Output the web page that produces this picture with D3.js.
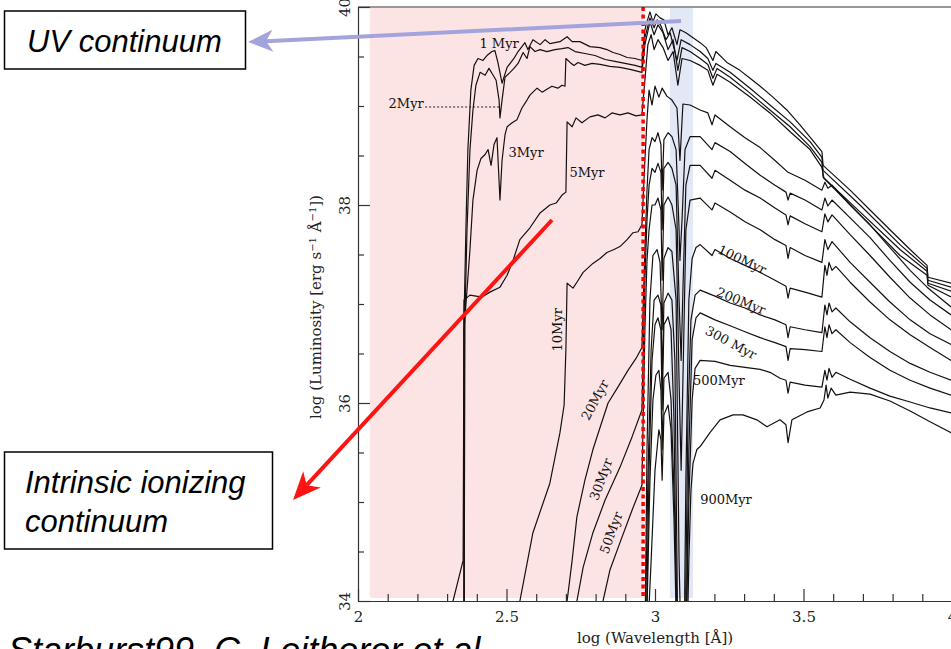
<!DOCTYPE html>
<html lang="en">
<head>
<meta charset="UTF-8">
<title>Starburst99 spectra</title>
<script src="https://cdn.jsdelivr.net/npm/d3@7"></script>
<style>
    body { margin: 0; background: #fff; }
    svg { display: block; }
    .axis path, .axis line { stroke: #333; stroke-width: 1.2; }
    .axis .tick text { font-family: "DejaVu Serif", serif; font-size: 15px; fill: #222; }
    .axis-title { font-family: "DejaVu Serif", serif; font-size: 15px; fill: #222; }
    .age { font-family: "DejaVu Serif", serif; font-size: 13px; fill: #111; }
    .note { font-family: "Liberation Sans", Arial, sans-serif; font-style: italic; font-size: 31px; fill: #000; }
</style>
</head>
<body>
<svg width="951" height="649"></svg>
<script>
// ticks
const xMajor = [2, 2.5, 3, 3.5, 4];
const yMajor = [34, 36, 38, 40];
const xMinor = [2.1, 2.2, 2.3, 2.4, 2.6, 2.7, 2.8, 2.9, 3.1, 3.2, 3.3, 3.4, 3.6, 3.7, 3.8, 3.9];
const yMinor = [34.5, 35, 35.5, 36.5, 37, 37.5, 38.5, 39, 39.5];

// highlighted bands (log wavelength)
const ionizingBand = [2.04, 2.96];
const uvBand = [3.05, 3.128];
const lymanEdge = 2.96;

// ages, in plot order
const ages = ["1 Myr", "2Myr", "3Myr", "5Myr", "10Myr", "20Myr", "30Myr", "50Myr",
              "100Myr", "200Myr", "300 Myr", "500Myr", "900Myr"];

// spectra: [log wavelength, log luminosity]
const myr1 = [[2.357,33.5],[2.357,36.84],[2.364,37.85],[2.370,38.56],[2.380,39.16],[2.391,39.41],[2.404,39.48],
  [2.421,39.46],[2.434,39.51],[2.451,39.55],[2.461,39.56],[2.471,39.44],[2.485,39.23],[2.502,39.39],[2.525,39.48],
  [2.539,39.55],[2.552,39.60],[2.562,39.64],[2.572,39.57],[2.589,39.67],[2.613,39.62],[2.630,39.67],[2.646,39.63],
  [2.663,39.64],[2.680,39.65],[2.704,39.70],[2.721,39.65],[2.747,39.65],[2.781,39.60],[2.815,39.59],[2.838,39.57],
  [2.859,39.54],[2.882,39.52],[2.906,39.49],[2.933,39.48],[2.956,39.46],[2.966,39.77],[2.970,39.82],[2.983,39.95],
  [2.993,39.85],[3.003,39.93],[3.017,39.89],[3.030,39.87],[3.044,39.72],[3.057,39.79],[3.074,39.62],[3.084,39.77],
  [3.104,39.74],[3.128,39.69],[3.152,39.64],[3.172,39.59],[3.195,39.46],[3.205,39.55],[3.242,39.44],[3.286,39.36],
  [3.320,39.28],[3.354,39.20],[3.397,39.09],[3.444,38.96],[3.488,38.81],[3.529,38.66],[3.562,38.54],[3.566,38.40],
  [3.657,38.15],[3.724,37.95],[3.791,37.75],[3.859,37.55],[3.916,37.39],[3.919,37.27],[3.997,37.21]];

const myr2 = [[2.357,33.5],[2.360,36.84],[2.367,37.75],[2.377,38.56],[2.387,38.96],[2.397,39.21],[2.411,39.34],
  [2.428,39.31],[2.441,39.38],[2.455,39.31],[2.465,39.26],[2.475,39.06],[2.478,38.88],[2.485,39.06],[2.495,39.29],
  [2.512,39.34],[2.525,39.38],[2.539,39.43],[2.556,39.54],[2.569,39.48],[2.579,39.60],[2.596,39.55],[2.613,39.57],
  [2.636,39.55],[2.663,39.57],[2.687,39.58],[2.707,39.59],[2.731,39.55],[2.764,39.53],[2.798,39.51],[2.832,39.47],
  [2.865,39.45],[2.899,39.43],[2.933,39.41],[2.956,39.39],[2.966,39.69],[2.983,39.89],[2.997,39.79],[3.007,39.87],
  [3.020,39.81],[3.037,39.67],[3.051,39.74],[3.074,39.46],[3.088,39.67],[3.118,39.62],[3.152,39.55],[3.178,39.48],
  [3.195,39.36],[3.205,39.43],[3.253,39.34],[3.320,39.18],[3.387,39.01],[3.455,38.84],[3.522,38.64],[3.562,38.48],
  [3.566,38.35],[3.690,38.00],[3.825,37.60],[3.916,37.36],[3.919,37.24],[3.997,37.17]];

const myr3 = [[2.357,33.5],[2.357,36.74],[2.367,37.14],[2.377,37.55],[2.387,38.05],[2.401,38.35],[2.414,38.47],
  [2.428,38.51],[2.438,38.56],[2.448,38.40],[2.458,38.61],[2.468,38.68],[2.478,38.05],[2.485,38.45],[2.495,38.71],
  [2.502,38.79],[2.519,38.83],[2.535,38.86],[2.552,38.98],[2.569,39.06],[2.579,39.11],[2.589,39.14],[2.603,39.18],
  [2.620,39.14],[2.636,39.17],[2.653,39.20],[2.673,39.18],[2.687,39.21],[2.697,39.20],[2.700,39.48],[2.714,39.44],
  [2.727,39.41],[2.741,39.44],[2.764,39.41],[2.788,39.43],[2.815,39.42],[2.848,39.40],[2.882,39.39],[2.916,39.37],
  [2.956,39.34],[2.966,39.62],[2.983,39.85],[2.997,39.72],[3.010,39.82],[3.027,39.74],[3.044,39.57],[3.061,39.67],
  [3.077,39.36],[3.091,39.59],[3.118,39.55],[3.152,39.48],[3.178,39.42],[3.195,39.28],[3.209,39.38],[3.253,39.29],
  [3.320,39.13],[3.387,38.96],[3.455,38.79],[3.522,38.59],[3.562,38.43],[3.566,38.28],[3.690,37.93],[3.825,37.55],
  [3.916,37.33],[3.919,37.21],[3.997,37.13]];

const myr5 = [[2.310,33.5],[2.320,34.00],[2.354,34.41],[2.357,37.04],[2.377,37.09],[2.418,37.07],[2.444,37.12],
  [2.478,37.17],[2.502,37.29],[2.522,37.44],[2.545,37.65],[2.579,37.77],[2.613,37.92],[2.646,38.00],[2.667,38.02],
  [2.687,38.10],[2.700,38.13],[2.704,38.84],[2.721,38.79],[2.734,38.88],[2.754,38.83],[2.781,38.89],[2.808,38.91],
  [2.832,38.88],[2.855,38.93],[2.882,38.91],[2.909,38.93],[2.936,38.90],[2.956,38.91],[2.966,39.26],[2.976,39.62],
  [2.987,39.72],[2.997,39.57],[3.010,39.67],[3.027,39.59],[3.044,39.46],[3.061,39.55],[3.077,39.21],[3.091,39.48],
  [3.118,39.46],[3.152,39.41],[3.178,39.36],[3.195,39.21],[3.209,39.32],[3.253,39.24],[3.320,39.09],[3.387,38.93],
  [3.455,38.74],[3.522,38.56],[3.562,38.38],[3.569,38.27],[3.690,37.90],[3.825,37.49],[3.916,37.29],[3.919,37.19],
  [3.997,37.07]];

const myr10 = [[2.529,33.5],[2.545,34.00],[2.589,34.69],[2.646,35.19],[2.680,35.70],[2.694,35.98],[2.700,36.54],
  [2.704,37.21],[2.724,37.16],[2.737,37.22],[2.758,37.32],[2.791,37.41],[2.815,37.46],[2.838,37.52],[2.862,37.55],
  [2.882,37.58],[2.906,37.65],[2.926,37.72],[2.943,37.73],[2.956,37.80],[2.966,38.45],[2.973,38.86],[2.980,39.16],
  [2.990,39.01],[3.000,39.20],[3.013,39.09],[3.024,39.18],[3.040,39.10],[3.057,39.06],[3.074,38.98],[3.084,38.45],
  [3.094,39.02],[3.118,39.01],[3.152,38.96],[3.178,38.93],[3.192,38.81],[3.202,38.91],[3.253,38.79],[3.303,38.68],
  [3.354,38.58],[3.404,38.45],[3.448,38.33],[3.505,38.25],[3.562,38.15],[3.572,38.23],[3.582,38.17],[3.596,38.20],
  [3.657,38.00],[3.724,37.80],[3.791,37.57],[3.859,37.34],[3.916,37.17],[3.960,37.06],[3.997,36.97]];

const myr20 = [[2.700,33.5],[2.704,34.00],[2.721,34.41],[2.737,34.85],[2.764,35.22],[2.791,35.53],[2.818,35.78],
  [2.842,36.00],[2.875,36.16],[2.909,36.33],[2.936,36.45],[2.956,36.56],[2.966,37.55],[2.973,38.15],[2.980,38.56],
  [2.990,38.68],[3.000,38.64],[3.010,38.73],[3.020,38.61],[3.024,38.15],[3.030,38.66],[3.044,38.73],[3.057,38.69],
  [3.071,38.56],[3.081,37.75],[3.084,37.44],[3.091,37.85],[3.101,38.56],[3.118,38.69],[3.152,38.69],[3.192,38.56],
  [3.202,38.63],[3.253,38.54],[3.303,38.42],[3.354,38.30],[3.404,38.20],[3.441,38.13],[3.448,38.05],[3.455,38.12],
  [3.505,38.05],[3.562,37.95],[3.572,38.07],[3.582,37.99],[3.596,38.05],[3.657,37.87],[3.724,37.67],[3.791,37.44],
  [3.859,37.22],[3.926,37.04],[3.997,36.89]];

const myr30 = [[2.731,33.5],[2.737,34.00],[2.758,34.34],[2.791,34.69],[2.832,35.02],[2.882,35.35],[2.923,35.66],
  [2.956,35.93],[2.966,37.24],[2.973,37.85],[2.980,38.20],[2.990,38.37],[3.000,38.33],[3.010,38.42],[3.020,38.33],
  [3.024,37.75],[3.030,38.37],[3.044,38.43],[3.057,38.37],[3.071,38.20],[3.081,37.04],[3.088,36.43],[3.094,37.14],
  [3.104,38.20],[3.118,38.40],[3.152,38.40],[3.192,38.27],[3.202,38.35],[3.253,38.25],[3.303,38.15],[3.354,38.07],
  [3.404,37.97],[3.441,37.90],[3.448,37.80],[3.455,37.89],[3.505,37.81],[3.562,37.73],[3.572,37.91],[3.582,37.83],
  [3.596,37.90],[3.657,37.70],[3.724,37.49],[3.791,37.27],[3.859,37.06],[3.926,36.89],[3.997,36.74]];

const myr50 = [[2.818,33.5],[2.825,34.00],[2.848,34.31],[2.882,34.59],[2.923,34.92],[2.956,35.17],[2.966,36.74],
  [2.973,37.44],[2.980,37.75],[2.990,38.00],[3.000,38.00],[3.010,38.07],[3.020,37.95],[3.024,37.24],[3.030,38.00],
  [3.044,38.08],[3.057,38.00],[3.071,37.75],[3.081,36.23],[3.088,35.32],[3.094,36.23],[3.104,37.75],[3.118,38.05],
  [3.152,38.07],[3.192,37.95],[3.202,38.02],[3.253,37.93],[3.303,37.83],[3.354,37.75],[3.404,37.65],[3.441,37.59],
  [3.448,37.46],[3.455,37.57],[3.505,37.49],[3.562,37.42],[3.572,37.65],[3.582,37.55],[3.596,37.63],[3.657,37.42],
  [3.724,37.22],[3.791,37.02],[3.859,36.84],[3.926,36.70],[3.997,36.59]];

const myr100 = [[2.966,33.5],[2.973,35.53],[2.983,37.04],[2.993,37.49],[3.007,37.55],[3.017,37.42],[3.024,36.74],
  [3.030,37.46],[3.044,37.57],[3.057,37.53],[3.071,37.04],[3.081,34.41],[3.088,33.5],[3.098,33.5],[3.104,35.22],
  [3.114,37.04],[3.125,37.46],[3.138,37.57],[3.152,37.60],[3.192,37.49],[3.202,37.55],[3.253,37.46],[3.303,37.39],
  [3.354,37.32],[3.404,37.24],[3.441,37.18],[3.448,37.06],[3.455,37.16],[3.505,37.12],[3.562,37.07],[3.572,37.39],
  [3.579,37.29],[3.586,37.42],[3.596,37.34],[3.609,37.38],[3.657,37.22],[3.724,37.02],[3.791,36.84],[3.859,36.69],
  [3.926,36.56],[3.997,36.43]];

const myr200 = [[2.966,33.5],[2.976,35.22],[2.987,36.54],[2.997,37.04],[3.010,37.09],[3.020,36.99],[3.024,36.23],
  [3.030,37.01],[3.044,37.11],[3.057,37.04],[3.067,36.43],[3.077,33.5],[3.101,33.5],[3.111,35.83],[3.121,36.84],
  [3.135,37.09],[3.152,37.14],[3.202,37.08],[3.253,37.01],[3.303,36.96],[3.354,36.89],[3.404,36.84],[3.441,36.79],
  [3.448,36.66],[3.455,36.77],[3.505,36.74],[3.562,36.71],[3.572,36.99],[3.579,36.89],[3.586,37.01],[3.596,36.92],
  [3.609,36.96],[3.657,36.82],[3.724,36.66],[3.791,36.52],[3.859,36.40],[3.926,36.31],[3.997,36.23]];

const myr300 = [[2.970,33.5],[2.980,35.32],[2.990,36.43],[3.000,36.79],[3.010,36.86],[3.020,36.74],[3.024,35.93],
  [3.030,36.79],[3.044,36.87],[3.054,36.74],[3.064,35.83],[3.074,33.5],[3.104,33.5],[3.114,35.53],[3.125,36.64],
  [3.138,36.86],[3.152,36.91],[3.202,36.84],[3.253,36.78],[3.303,36.72],[3.354,36.66],[3.404,36.61],[3.441,36.57],
  [3.448,36.43],[3.455,36.55],[3.505,36.54],[3.562,36.52],[3.572,36.77],[3.579,36.66],[3.586,36.79],[3.596,36.70],
  [3.609,36.74],[3.657,36.61],[3.724,36.46],[3.791,36.33],[3.859,36.23],[3.926,36.15],[3.997,36.08]];

const myr500 = [[2.970,33.5],[2.983,35.22],[2.993,36.03],[3.003,36.28],[3.013,36.33],[3.020,36.13],[3.024,35.53],
  [3.030,36.25],[3.044,36.31],[3.054,36.03],[3.067,34.82],[3.077,33.5],[3.104,33.5],[3.114,35.02],[3.125,36.03],
  [3.135,36.35],[3.152,36.43],[3.202,36.42],[3.253,36.38],[3.303,36.36],[3.354,36.34],[3.387,36.31],[3.421,36.25],
  [3.441,36.23],[3.448,36.10],[3.455,36.21],[3.505,36.18],[3.562,36.16],[3.572,36.33],[3.579,36.23],[3.586,36.35],
  [3.596,36.26],[3.609,36.31],[3.657,36.24],[3.724,36.15],[3.791,36.07],[3.859,36.01],[3.926,35.95],[3.997,35.90]];

const myr900 = [[2.973,33.5],[2.987,34.41],[3.000,35.32],[3.013,35.73],[3.020,35.63],[3.024,35.22],[3.030,35.88],
  [3.044,35.98],[3.054,35.73],[3.064,34.82],[3.074,33.5],[3.108,33.5],[3.114,34.41],[3.121,35.12],[3.128,35.39],
  [3.141,35.53],[3.152,35.56],[3.185,35.70],[3.219,35.83],[3.263,35.88],[3.296,35.88],[3.343,35.83],[3.377,35.76],
  [3.421,35.83],[3.441,35.78],[3.448,35.60],[3.461,35.83],[3.512,35.91],[3.556,35.95],[3.569,36.03],[3.576,36.18],
  [3.582,36.05],[3.593,36.15],[3.609,36.08],[3.657,36.11],[3.724,36.09],[3.791,36.02],[3.859,35.92],[3.926,35.81],
  [3.997,35.70]];

const spectra = [myr1, myr2, myr3, myr5, myr10, myr20, myr30, myr50, myr100, myr200, myr300, myr500, myr900];

// where each age label sits: [log wavelength, log luminosity, angle]
const labelSpots = [
    [2.475, 39.63, 0], [2.162, 39.03, 0], [2.566, 38.53, 0], [2.771, 38.33, 0],
    [2.670, 36.74, -90], [2.798, 36.03, -62], [2.818, 35.23, -70], [2.852, 34.69, -70],
    [3.293, 37.45, 25], [3.290, 37.03, 22], [3.256, 36.61, 28], [3.215, 36.23, 0], [3.239, 35.03, 0]
];

const svg = d3.select("svg");

const x = d3.scaleLinear().domain([2, 4]).range([358, 952]);
const y = d3.scaleLinear().domain([34, 40]).range([601, 7]);

svg.append("clipPath").attr("id", "plot")
   .append("rect")
   .attr("x", x(2)).attr("y", y(40))
   .attr("width", x(4) - x(2)).attr("height", y(34) - y(40));

// shaded bands
svg.append("rect")
   .attr("x", x(ionizingBand[0])).attr("y", y(39.99))
   .attr("width", x(ionizingBand[1]) - x(ionizingBand[0]))
   .attr("height", y(34.03) - y(39.99))
   .attr("fill", "#fde4e4");

svg.append("rect")
   .attr("x", x(uvBand[0])).attr("y", y(39.99))
   .attr("width", x(uvBand[1]) - x(uvBand[0]))
   .attr("height", y(34.03) - y(39.99))
   .attr("fill", "#e3e8f6");

// spectra
const line = d3.line().x(d => x(d[0])).y(d => y(d[1]));

svg.append("g")
   .attr("clip-path", "url(#plot)")
   .selectAll("path")
   .data(spectra)
   .enter().append("path")
   .attr("d", line)
   .attr("fill", "none")
   .attr("stroke", "#151010")
   .attr("stroke-width", 1.2)
   .attr("stroke-linejoin", "round");

// age labels
svg.selectAll(".age")
   .data(ages)
   .enter().append("text")
   .attr("class", "age")
   .attr("text-anchor", "middle")
   .attr("dy", "0.35em")
   .attr("transform", (d, i) => `translate(${x(labelSpots[i][0])},${y(labelSpots[i][1])}) rotate(${labelSpots[i][2]})`)
   .text(d => d);

// dotted leader for 2Myr
svg.append("line")
   .attr("x1", x(2.226)).attr("x2", x(2.478))
   .attr("y1", y(38.99)).attr("y2", y(38.99))
   .attr("stroke", "#222").attr("stroke-width", 1)
   .attr("stroke-dasharray", "2,2");

// Lyman edge
svg.append("line")
   .attr("x1", x(lymanEdge)).attr("x2", x(lymanEdge))
   .attr("y1", y(40)).attr("y2", y(34.04))
   .attr("stroke", "#ff0000").attr("stroke-width", 3.5)
   .attr("stroke-dasharray", "4,3.5");

// axes
const yAxis = svg.append("g").attr("class", "axis")
   .attr("transform", `translate(${x(2)},0)`)
   .call(d3.axisLeft(y).tickValues(yMajor).tickSize(-12).tickSizeOuter(0).tickFormat(d3.format("d")));
yAxis.selectAll(".tick text")
   .attr("x", 0).attr("dy", 0)
   .attr("text-anchor", "middle")
   .attr("transform", "translate(-8,0) rotate(-90)");

svg.append("g").attr("class", "axis")
   .attr("transform", `translate(${x(2)},0)`)
   .call(d3.axisLeft(y).tickValues(yMinor).tickSize(-6).tickSizeOuter(0).tickFormat(""))
   .select(".domain").remove();

svg.append("g").attr("class", "axis")
   .attr("transform", `translate(0,${y(34)})`)
   .call(d3.axisBottom(x).tickValues(xMajor).tickSize(-12).tickSizeOuter(0).tickPadding(10)
           .tickFormat(d => String(d)));

svg.append("g").attr("class", "axis")
   .attr("transform", `translate(0,${y(34)})`)
   .call(d3.axisBottom(x).tickValues(xMinor).tickSize(-7).tickSizeOuter(0).tickFormat(""))
   .select(".domain").remove();

svg.append("line")
   .attr("x1", x(2)).attr("x2", x(4))
   .attr("y1", y(40)).attr("y2", y(40))
   .attr("stroke", "#333").attr("stroke-width", 1.2);

// axis titles
const yTitle = svg.append("text")
   .attr("class", "axis-title")
   .attr("text-anchor", "middle")
   .attr("transform", "translate(321,307) rotate(-90)");
yTitle.append("tspan").text("log (Luminosity [erg s");
yTitle.append("tspan").attr("baseline-shift", "super").attr("font-size", "10px").text("−1");
yTitle.append("tspan").text(" Å");
yTitle.append("tspan").attr("baseline-shift", "super").attr("font-size", "10px").text("−1");
yTitle.append("tspan").text("])");

svg.append("text")
   .attr("class", "axis-title")
   .attr("text-anchor", "middle")
   .attr("x", x(3)).attr("y", 643)
   .text("log (Wavelength [Å])");

// annotation arrows
function arrow(x1, y1, x2, y2, color, w, len, half) {
    const a = Math.atan2(y2 - y1, x2 - x1);
    const nx = x2 - Math.cos(a) * len * 0.72, ny = y2 - Math.sin(a) * len * 0.72;
    const bx = x2 - Math.cos(a) * len, by = y2 - Math.sin(a) * len;
    const px = -Math.sin(a), py = Math.cos(a);
    svg.append("line")
       .attr("x1", x1).attr("y1", y1).attr("x2", nx).attr("y2", ny)
       .attr("stroke", color).attr("stroke-width", w);
    const pts = [[x2, y2], [bx + px * half, by + py * half], [nx, ny], [bx - px * half, by - py * half]];
    svg.append("polygon")
       .attr("points", pts.map(p => p.join(",")).join(" "))
       .attr("fill", color);
}

arrow(681, 21, 248, 42, "#a4a4dc", 4, 25, 11);
arrow(552, 220, 293, 500, "#ff1414", 4, 28, 12);

// annotation boxes
svg.append("rect")
   .attr("x", 4.5).attr("y", 11).attr("width", 241).attr("height", 58)
   .attr("fill", "#fff").attr("stroke", "#000").attr("stroke-width", 1.5);
svg.append("text").attr("class", "note")
   .attr("x", 27).attr("y", 52)
   .text("UV continuum");

svg.append("rect")
   .attr("x", 4.5).attr("y", 452).attr("width", 268).attr("height", 97)
   .attr("fill", "#fff").attr("stroke", "#000").attr("stroke-width", 1.5);
svg.append("text").attr("class", "note")
   .attr("x", 25).attr("y", 493)
   .text("Intrinsic ionizing");
svg.append("text").attr("class", "note")
   .attr("x", 25).attr("y", 532)
   .text("continuum");

svg.append("text").attr("class", "note")
   .attr("x", 8).attr("y", 663)
   .style("font-size", "36px")
   .text("Starburst99, C. Leitherer et al.");
</script>
</body>
</html>
